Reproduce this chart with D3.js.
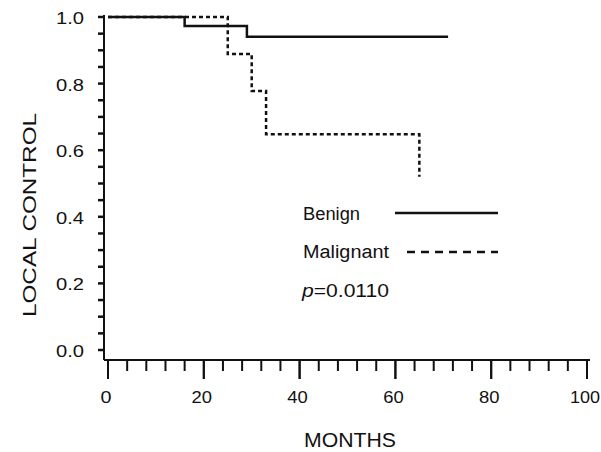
<!DOCTYPE html>
<html>
<head>
<meta charset="utf-8">
<script src="https://cdn.jsdelivr.net/npm/d3@7"></script>
<style>
  body { margin: 0; background: #fff; }
  text { font-family: "Liberation Sans", Arial, sans-serif; fill: #111; }
</style>
</head>
<body>
<div id="chart"></div>
<script>
// Kaplan-Meier step points: [months, local control]
const benign = [[0, 1.0], [16, 1.0], [16, 0.973], [29, 0.973], [29, 0.941], [71, 0.941]];
const malignant = [[0, 1.0], [25, 1.0], [25, 0.889], [30, 0.889], [30, 0.778], [33, 0.778],
                   [33, 0.648], [65, 0.648], [65, 0.52]];
const xTicks = [0, 20, 40, 60, 80, 100];
const yTicks = [0.0, 0.2, 0.4, 0.6, 0.8, 1.0];

const width = 601, height = 452;
const svg = d3.select("#chart").append("svg")
    .attr("width", width)
    .attr("height", height);

const x = d3.scaleLinear().domain([0, 100]).range([108, 587]);
const y = d3.scaleLinear().domain([0, 1]).range([350, 17]);
const axisX = 104, axisY = 360;

// stretched text, the scanned font is wider than ours
function wide(sel, len) {
    return sel.attr("textLength", len).attr("lengthAdjust", "spacingAndGlyphs");
}

// axes lines
svg.append("line")
    .attr("x1", axisX).attr("x2", axisX)
    .attr("y1", 15).attr("y2", axisY)
    .attr("stroke", "#111").attr("stroke-width", 2);
svg.append("line")
    .attr("x1", axisX).attr("x2", 590)
    .attr("y1", axisY).attr("y2", axisY)
    .attr("stroke", "#111").attr("stroke-width", 2);

// x ticks: minor every 4 months, major every 20
svg.append("g").selectAll("line")
    .data(d3.range(0, 101, 4).concat(xTicks))
    .enter().append("line")
    .attr("x1", d => x(d)).attr("x2", d => x(d))
    .attr("y1", axisY)
    .attr("y2", d => axisY + (d % 20 === 0 ? 19 : 11))
    .attr("stroke", "#111").attr("stroke-width", 2);

svg.append("g").selectAll("text")
    .data(xTicks)
    .enter().append("text")
    .attr("x", d => x(d) - 2)
    .attr("y", 403)
    .attr("text-anchor", "middle")
    .attr("font-size", 17)
    .attr("textLength", d => 9.5 * String(d).length + 1.5)
    .attr("lengthAdjust", "spacingAndGlyphs")
    .text(d => d);

// y ticks: every 0.05
svg.append("g").selectAll("line")
    .data(d3.range(0, 21).map(i => i * 0.05))
    .enter().append("line")
    .attr("x1", axisX - 6).attr("x2", axisX)
    .attr("y1", d => y(d)).attr("y2", d => y(d))
    .attr("stroke", "#111").attr("stroke-width", 2.5);

svg.append("g").selectAll("text")
    .data(yTicks)
    .enter().append("text")
    .attr("x", 84)
    .attr("y", d => y(d) + 7)
    .attr("text-anchor", "end")
    .attr("font-size", 17)
    .attr("textLength", 28)
    .attr("lengthAdjust", "spacingAndGlyphs")
    .text(d => d.toFixed(1));

// axis titles
wide(svg.append("text")
    .attr("transform", "translate(36,215) rotate(-90)")
    .attr("text-anchor", "middle")
    .attr("font-size", 18), 204)
    .text("LOCAL CONTROL");
wide(svg.append("text")
    .attr("x", 350).attr("y", 447)
    .attr("text-anchor", "middle")
    .attr("font-size", 20), 92)
    .text("MONTHS");

// curves
const line = d3.line().x(d => x(d[0])).y(d => y(d[1]));
svg.append("path")
    .attr("d", line(malignant))
    .attr("fill", "none")
    .attr("stroke", "#111").attr("stroke-width", 2.5)
    .attr("stroke-dasharray", "4,3");
svg.append("path")
    .attr("d", line(benign))
    .attr("fill", "none")
    .attr("stroke", "#111").attr("stroke-width", 2.5);

// legend
wide(svg.append("text").attr("x", 303).attr("y", 220).attr("font-size", 18), 57)
    .text("Benign");
svg.append("line")
    .attr("x1", 395).attr("x2", 498).attr("y1", 213).attr("y2", 213)
    .attr("stroke", "#111").attr("stroke-width", 2.5);
wide(svg.append("text").attr("x", 303).attr("y", 258).attr("font-size", 18), 86)
    .text("Malignant");
svg.append("line")
    .attr("x1", 407).attr("x2", 498).attr("y1", 252).attr("y2", 252)
    .attr("stroke", "#111").attr("stroke-width", 2.5)
    .attr("stroke-dasharray", "8,6");
const pText = wide(svg.append("text").attr("x", 302).attr("y", 297).attr("font-size", 18), 87);
pText.append("tspan").attr("font-style", "italic").text("p");
pText.append("tspan").text("=0.0110");
</script>
</body>
</html>
